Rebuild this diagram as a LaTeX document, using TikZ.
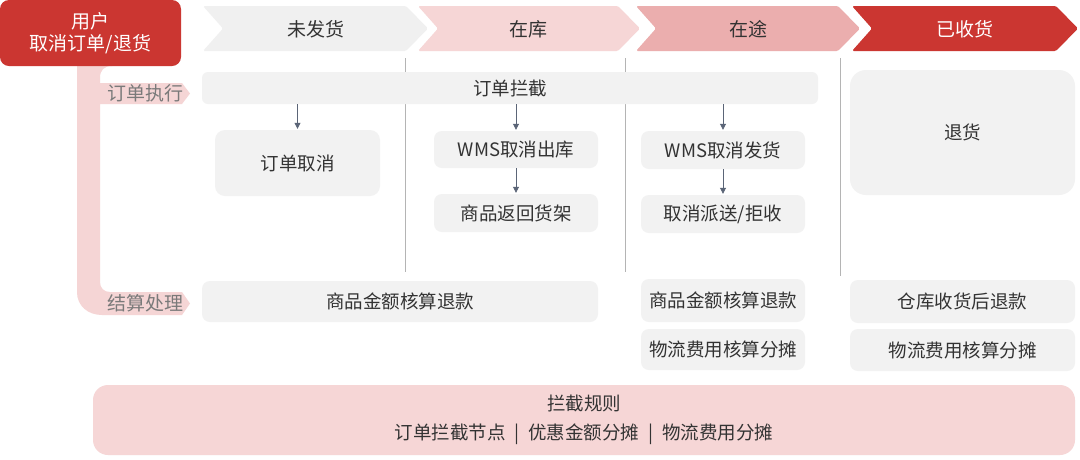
\documentclass[tikz,border=0pt]{standalone}
\usepackage{fontspec}
\setmainfont{Noto Sans CJK SC}
\usetikzlibrary{arrows.meta}
\definecolor{redmain}{HTML}{CB3631}
\definecolor{pinkA}{HTML}{F6D6D6}
\definecolor{pinkB}{HTML}{EBAEAE}
\definecolor{pinkC}{HTML}{F5D5D5}
\definecolor{grayA}{HTML}{F0F0F0}
\definecolor{grayBox}{HTML}{F2F2F2}
\definecolor{txt}{HTML}{333333}
\definecolor{lbl}{HTML}{7A7A7A}
\definecolor{arr}{HTML}{5B6577}
\definecolor{divider}{HTML}{B4B4B4}
\begin{document}
\begin{tikzpicture}[x=1pt,y=-1pt,
  gbox/.style={fill=grayBox, rounded corners=8pt, inner sep=0pt, text=txt,
    font=\fontsize{18.5}{22}\selectfont, align=center},
  chevtext/.style={text=txt, font=\fontsize{19}{22}\selectfont, inner sep=0pt},
  lbltext/.style={text=lbl, font=\fontsize{19}{22}\selectfont, inner sep=0pt},
  flowarrow/.style={draw=arr, line width=0.8pt, -{Triangle[length=6pt,width=6pt]}, shorten >=1pt},
  divline/.style={draw=divider, line width=0.8pt}
]
\useasboundingbox (0,0) rectangle (1080,459);
\fill[white] (0,0) rectangle (1080,459);

% pink connector
\fill[pinkC] (77,40) -- (77,292) .. controls (77,306) and (88,315) .. (102,315)
  -- (182,315) -- (190,303.5) -- (182,292) -- (110,292)
  .. controls (104,292) and (100,288) .. (100,282)
  -- (100,104) -- (182,104) -- (190,93.5) -- (182,83) -- (100,83)
  -- (100,78) .. controls (100,70) and (104,66) .. (112,66) -- (112,40) -- cycle;

% top-left red box
\node[fill=redmain, rounded corners=9pt, minimum width=181pt, minimum height=66pt,
  inner sep=0pt, text=white, align=center, font=\fontsize{19}{22}\selectfont]
  (user) at (90.5,33) {用户\\取消订单/退货};

% chevrons
\fill[grayA, rounded corners=1.5pt] (203,6) -- (406,6) -- (428,28.5) -- (406,51) -- (203,51) -- (223,28.5) -- cycle;
\fill[pinkA, rounded corners=1.5pt] (418,6) -- (618,6) -- (640,28.5) -- (618,51) -- (418,51) -- (438,28.5) -- cycle;
\fill[pinkB, rounded corners=1.5pt] (636,6) -- (838,6) -- (860,28.5) -- (838,51) -- (636,51) -- (656,28.5) -- cycle;
\fill[redmain, rounded corners=1.5pt] (852,6) -- (1056,6) -- (1078,28.5) -- (1056,51) -- (852,51) -- (872,28.5) -- cycle;
\node[chevtext] (c1) at (316,29) {未发货};
\node[chevtext] (c2) at (528,29) {在库};
\node[chevtext] (c3) at (748,29) {在途};
\node[chevtext, text=white] (c4) at (965,29) {已收货};

% dividers
\draw[divline] (405,58) -- (405,272);
\draw[divline] (625,58) -- (625,272);
\draw[divline] (840,58) -- (840,276);

% row labels
\node[lbltext] (lexec) at (145,93) {订单执行};
\node[lbltext] (lsettle) at (145,303) {结算处理};

% boxes
\node[gbox, rounded corners=6pt, minimum width=616pt, minimum height=32pt] (intercept) at (510,88) {订单拦截};
\node[gbox, rounded corners=10pt, minimum width=165pt, minimum height=66pt] (cancel) at (297.5,163) {订单取消};
\node[gbox, minimum width=164pt, minimum height=37pt] (wms1) at (516,149.5) {WMS取消出库};
\node[gbox, minimum width=164pt, minimum height=38pt] (back) at (516,213) {商品返回货架};
\node[gbox, minimum width=164pt, minimum height=38pt] (wms2) at (723,150) {WMS取消发货};
\node[gbox, minimum width=164pt, minimum height=38pt] (reject) at (723,214) {取消派送/拒收};
\node[gbox, rounded corners=16pt, minimum width=225pt, minimum height=125pt] (ret) at (962.5,132.5) {退货};

\node[gbox, minimum width=396pt, minimum height=41pt] (settle1) at (400,301.5) {商品金额核算退款};
\node[gbox, minimum width=164pt, minimum height=43pt] (settle2) at (723,300.5) {商品金额核算退款};
\node[gbox, minimum width=164pt, minimum height=41pt] (logi2) at (723,349.5) {物流费用核算分摊};
\node[gbox, minimum width=225pt, minimum height=43pt] (settle3) at (962.5,301.5) {仓库收货后退款};
\node[gbox, minimum width=225pt, minimum height=42pt] (logi3) at (962.5,350) {物流费用核算分摊};

\node[gbox, fill=pinkA, rounded corners=15pt, minimum width=982pt, minimum height=70pt,
  font=\fontsize{18.5}{29}\selectfont] (rules) at (584,420)
  {拦截规则\\订单拦截节点\hspace{9pt}|\hspace{9pt}优惠金额分摊\hspace{9pt}|\hspace{9pt}物流费用分摊};

% arrows
\draw[flowarrow] (cancel.north |- intercept.south) -- (cancel.north);
\draw[flowarrow] (wms1.north |- intercept.south) -- (wms1.north);
\draw[flowarrow] (wms2.north |- intercept.south) -- (wms2.north);
\draw[flowarrow] (wms1.south) -- (back.north);
\draw[flowarrow] (wms2.south) -- (reject.north);
\end{tikzpicture}
\end{document}
